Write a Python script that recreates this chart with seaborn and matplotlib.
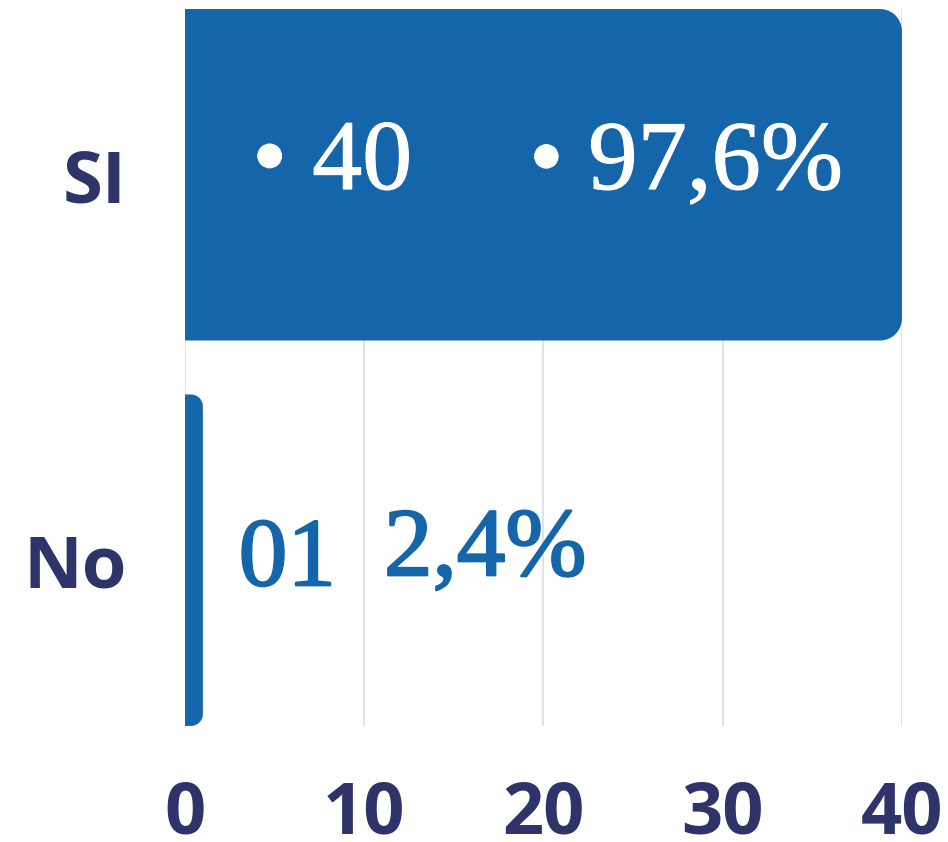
import numpy as np
import pandas as pd
import matplotlib
matplotlib.use("Agg")
import matplotlib.pyplot as plt
import matplotlib.patheffects as pe
from matplotlib.path import Path
from matplotlib.patches import PathPatch
import seaborn as sns

# Survey answers and counts
categories = ["SI", "No"]
counts = [40, 1]
percents = [97.6, 2.4]
x_ticks = [0, 10, 20, 30, 40]

bar_color = "#1565ab"
label_color = "#2e3369"
grid_color = "#dcdde3"

df = pd.DataFrame({"respuesta": categories, "total": counts})

sns.set_style("white")
plt.rcParams["font.family"] = ["Open Sans", "DejaVu Sans"]

fig = plt.figure(figsize=(9.48, 8.42), dpi=100)
ax = fig.add_axes([0.1951, 0.1378, 0.7563, 0.8515])

sns.barplot(data=df, x="total", y="respuesta", orient="h", color=bar_color,
            width=0.86, ax=ax, zorder=2)

ax.set_xlim(0, 40)
ax.set_ylim(1.43, -0.43)
ax.set_xticks(x_ticks)
ax.set_xticklabels([str(t) for t in x_ticks])
ax.set_xlabel("")
ax.set_ylabel("")
for s in ax.spines.values():
    s.set_visible(False)
ax.grid(axis="x", color=grid_color, linewidth=1.2, zorder=0)
ax.grid(axis="y", visible=False)
ax.set_axisbelow(True)
ax.tick_params(axis="both", length=0, labelsize=52, labelcolor=label_color)
ax.tick_params(axis="x", pad=38)
ax.tick_params(axis="y", pad=42)
for lab in ax.get_xticklabels() + ax.get_yticklabels():
    lab.set_fontweight("bold")

# Replace plain rectangles with bars rounded on the right end
fig.canvas.draw()
p0 = ax.transData.transform((0, 0))
p1 = ax.transData.transform((1, 1))
px_x = abs(p1[0] - p0[0])
px_y = abs(p1[1] - p0[1])


def right_rounded(x0, y0, w, h, r_px):
    r_px = min(r_px, w * px_x * 0.9)
    rx = r_px / px_x
    ry = r_px / px_y
    x1 = x0 + w
    y1 = y0 + h
    ylo, yhi = min(y0, y1), max(y0, y1)
    pts = [(x0, ylo), (x1 - rx, ylo)]
    for t in np.linspace(-np.pi / 2, 0, 16):
        pts.append((x1 - rx + rx * np.cos(t), ylo + ry + ry * np.sin(t)))
    for t in np.linspace(0, np.pi / 2, 16):
        pts.append((x1 - rx + rx * np.cos(t), yhi - ry + ry * np.sin(t)))
    pts += [(x0, yhi), (x0, ylo)]
    codes = [Path.MOVETO] + [Path.LINETO] * (len(pts) - 2) + [Path.CLOSEPOLY]
    return Path(pts, codes)


for patch, radius in zip(list(ax.patches), [22, 12]):
    x0, y0 = patch.get_x(), patch.get_y()
    w, h = patch.get_width(), patch.get_height()
    patch.set_visible(False)
    ax.add_patch(PathPatch(right_rounded(x0, y0, w, h, radius),
                           facecolor=bar_color, edgecolor="none", zorder=2))

# Value labels: count and share of answers
serif = ["Liberation Serif", "DejaVu Serif"]
white_fx = [pe.withStroke(linewidth=0.8, foreground="white")]
blue_fx = [pe.withStroke(linewidth=1.6, foreground=bar_color)]
ax.text(3.75, 0.037, f"\u2022 {counts[0]}", color="white", fontsize=72,
        family=serif, ha="left", va="baseline", zorder=3,
        path_effects=white_fx)
ax.text(19.2, 0.037, f"\u2022 {percents[0]:.1f}%".replace(".", ","),
        color="white", fontsize=71, family=serif, ha="left",
        va="baseline", zorder=3, path_effects=white_fx)
ax.text(3.0, 1.065, f"{counts[1]:02d}", color=bar_color, fontsize=70,
        family=serif, ha="left", va="baseline", zorder=3,
        path_effects=blue_fx)
ax.text(11.1, 1.039, f"{percents[1]:.1f}%".replace(".", ","),
        color=bar_color, fontsize=70, family=serif, ha="left",
        va="baseline", zorder=3, path_effects=blue_fx)

fig.savefig("out.png", dpi=100, facecolor="white")
